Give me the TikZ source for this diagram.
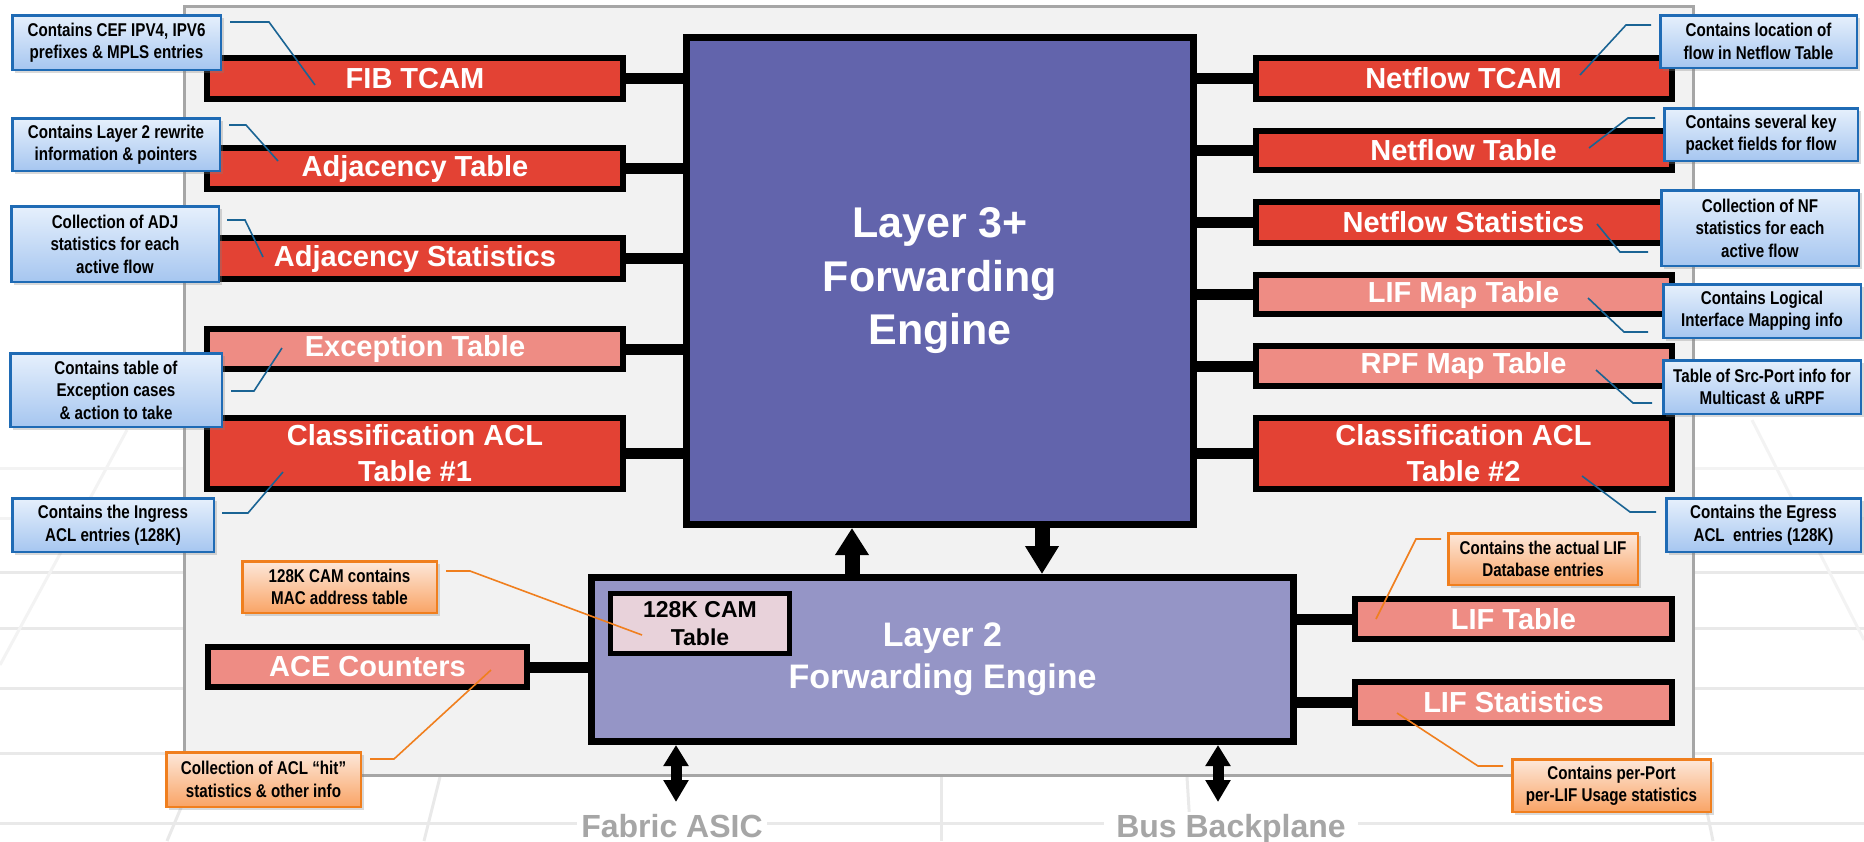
\documentclass[tikz,border=0pt]{standalone}
\usepackage{fontspec}
\setmainfont{Liberation Sans}
\newfontfamily\narrowsans{Liberation Sans}[FakeStretch=0.82]
\usetikzlibrary{arrows.meta,shadows,calc}

\definecolor{panelfill}{HTML}{F2F2F2}
\definecolor{panelline}{HTML}{A6A6A6}
\definecolor{gridline}{HTML}{E9E9E9}
\definecolor{gridfaint}{HTML}{F3F3F3}
\definecolor{lthree}{HTML}{6264AC}
\definecolor{ltwo}{HTML}{9595C6}
\definecolor{tabred}{HTML}{E34234}
\definecolor{tabpink}{HTML}{EE8C84}
\definecolor{camfill}{HTML}{E8D2DA}
\definecolor{bluetop}{HTML}{E6F0FC}
\definecolor{bluebot}{HTML}{A6C6F0}
\definecolor{blueline}{HTML}{1F6BB5}
\definecolor{leaderblue}{HTML}{1A6494}
\definecolor{orangetop}{HTML}{FDE8DA}
\definecolor{orangebot}{HTML}{F9A466}
\definecolor{orangeline}{HTML}{F07F1E}
\definecolor{labelgray}{HTML}{A6A6A6}

\begin{document}
\begin{tikzpicture}[x=1pt,y=-1pt,
  gridl/.style={draw=gridline, line width=3pt},
  gridf/.style={draw=gridfaint, line width=3pt},
  engine/.style={draw=black, line width=7pt, inner sep=0pt, text=white, align=center},
  tbl/.style={draw=black, line width=6pt, inner sep=0pt, text=white, align=center,
    minimum width=416pt, font=\fontsize{29}{36}\selectfont\bfseries},
  redtbl/.style={tbl, fill=tabred},
  pinktbl/.style={tbl, fill=tabpink},
  link/.style={line width=11pt},
  callout/.style={line width=2.5pt, inner sep=0pt, align=center, text=black,
    font=\narrowsans\fontsize{18.5}{22.5}\selectfont\bfseries,
    drop shadow={shadow xshift=3pt, shadow yshift=-3pt, opacity=0.3}},
  bluecall/.style={callout, draw=blueline, top color=bluetop, bottom color=bluebot},
  orangecall/.style={callout, draw=orangeline, top color=orangetop, bottom color=orangebot},
  bleader/.style={draw=leaderblue, line width=1.6pt},
  oleader/.style={draw=orangeline, line width=1.6pt},
  busarrow/.style={line width=11pt,
    {Triangle[width=24pt,length=21pt]}-{Triangle[width=24pt,length=22pt]}},
  busname/.style={anchor=base, fill=white, inner ysep=2pt, text=labelgray,
    font=\fontsize{32}{32}\selectfont\bfseries}
]
\useasboundingbox (0,0) rectangle (1864,841);
\clip (0,0) rectangle (1864,841);

% faint floor grid behind the chassis
\foreach \y in {468,518}
  \draw[gridf] (0,\y) -- (1864,\y);
\foreach \y in {572,628,688,753,823}
  \draw[gridl] (0,\y) -- (1864,\y);
\draw[gridf] (127,430) -- (0,665);
\draw[gridl] (183,803) -- (167,841);
\draw[gridl] (440,777) -- (424,841);
\draw[gridl] (941,777) -- (941,841);
\draw[gridl] (1187,777) -- (1191,841);
\draw[gridl] (1700,777) -- (1713,841);
\draw[gridf] (1752,420) -- (1864,640);

% chassis panel
\node[draw=panelline, fill=panelfill, line width=3pt, inner sep=0pt,
  minimum width=1509pt, minimum height=769pt] (panel) at (939,391) {};

% forwarding engines
\node[engine, fill=lthree, minimum width=507pt, minimum height=487pt,
  font=\fontsize{43}{53.5}\selectfont\bfseries] (l3) at (940,281)
  {Layer 3+\\Forwarding\\Engine};
\node[engine, fill=ltwo, minimum width=702pt, minimum height=164pt,
  font=\fontsize{34}{42}\selectfont\bfseries] (l2) at (942.5,659.5)
  {Layer 2\\Forwarding Engine};
\node[draw=black, line width=5pt, fill=camfill, inner sep=0pt, align=center,
  minimum width=179pt, minimum height=60pt,
  font=\fontsize{23}{28}\selectfont\bfseries] (cam) at (700,623.5)
  {128K CAM\\Table};

% lookup tables, left of the L3 engine
\node[redtbl,  minimum height=41pt] (fib)  at (415,78.5)  {FIB TCAM};
\node[redtbl,  minimum height=41pt] (adj)  at (415,168.5) {Adjacency Table};
\node[redtbl,  minimum height=41pt] (adjs) at (415,258.5) {Adjacency Statistics};
\node[pinktbl, minimum height=40pt] (exc)  at (415,349)   {Exception Table};
\node[redtbl,  minimum height=71pt] (acl1) at (415,453.5) {Classification ACL\\Table \#1};

% lookup tables, right of the L3 engine
\node[redtbl,  minimum height=41pt] (nft)  at (1463.5,78.5)  {Netflow TCAM};
\node[redtbl,  minimum height=39pt] (nftb) at (1463.5,150.5) {Netflow Table};
\node[redtbl,  minimum height=41pt] (nfs)  at (1463.5,222.5) {Netflow Statistics};
\node[pinktbl, minimum height=39pt] (lifm) at (1463.5,294.5) {LIF Map Table};
\node[pinktbl, minimum height=40pt] (rpf)  at (1463.5,366)   {RPF Map Table};
\node[redtbl,  minimum height=71pt] (acl2) at (1463.5,453.5) {Classification ACL\\Table \#2};

% tables attached to the L2 engine
\node[pinktbl, minimum width=319pt, minimum height=40pt] (ace)  at (367.5,667)    {ACE Counters};
\node[pinktbl, minimum width=317pt, minimum height=40pt] (lift) at (1513.5,619)   {LIF Table};
\node[pinktbl, minimum width=317pt, minimum height=41pt] (lifs) at (1513.5,702.5) {LIF Statistics};

% table-to-engine links
\foreach \t in {fib,adj,adjs,exc,acl1}
  \draw[link] (\t.east) -- (\t.east -| l3.west);
\foreach \t in {nft,nftb,nfs,lifm,rpf,acl2}
  \draw[link] (\t.west) -- (\t.west -| l3.east);
\draw[link] (ace.east) -- (ace.east -| l2.west);
\draw[link] (lift.west) -- (lift.west -| l2.east);
\draw[link] (lifs.west) -- (lifs.west -| l2.east);

% L2 <-> L3 paths
\coordinate (upx) at (852,0);
\coordinate (dnx) at (1042,0);
\draw[line width=15pt, -{Triangle[width=32pt,length=27pt]}] (upx |- l2.north) -- (upx |- l3.south);
\draw[line width=15pt, -{Triangle[width=32pt,length=28pt]}] (dnx |- l3.south) -- (dnx |- l2.north);

% external interfaces
\coordinate (fabend) at (676,802);
\coordinate (busend) at (1218,802);
\draw[busarrow] (fabend |- l2.south) -- (fabend);
\draw[busarrow] (busend |- l2.south) -- (busend);
\node[busname, inner xsep=4pt] (fabric) at (672,837) {Fabric ASIC};
\node[busname, inner xsep=12pt] (bus) at (1231,837) {Bus Backplane};

% callout leader lines
\foreach \n/\ax/\ay/\dx/\bx/\by/\sty in {
   1/230/22/39/315/85/bleader,
   2/229/125/17/278/161/bleader,
   3/227/220/18/263/257/bleader,
   4/231/391/23/282/348/bleader,
   5/222/513/26/283/472/bleader,
   6/1651/25/-25/1580/75/bleader,
   7/1655/118/-27/1589/148/bleader,
   8/1648/252/-28/1597/224/bleader,
   9/1648/332/-24/1588/298/bleader,
   10/1652/403/-19/1596/370/bleader,
   11/1656/512/-26/1582/476/bleader,
   12/446/571/24/642/635/oleader,
   13/370/759/24/491/670/oleader,
   14/1441/539/-25/1376/619/oleader,
   15/1503/766/-25/1397/713/oleader} {
  \coordinate (la\n) at (\ax,\ay);
  \coordinate (lb\n) at (\bx,\by);
  \draw[\sty] (la\n) -- ++(\dx,0) -- (lb\n);
}

% blue callouts
\node[bluecall, minimum width=208.5pt, minimum height=54.5pt] (c1) at (116.5,42.5)
  {Contains CEF IPV4, IPV6\\prefixes \& MPLS entries};
\node[bluecall, minimum width=207.5pt, minimum height=52.5pt] (c2) at (116,144.5)
  {Contains Layer 2 rewrite\\information \& pointers};
\node[bluecall, minimum width=207.5pt, minimum height=75.5pt] (c3) at (115,244)
  {Collection of ADJ\\statistics for each\\active flow};
\node[bluecall, minimum width=211.5pt, minimum height=73.5pt] (c4) at (116,390)
  {Contains table of\\Exception cases\\\& action to take};
\node[bluecall, minimum width=201.5pt, minimum height=53.5pt] (c5) at (113,525)
  {Contains the Ingress\\ACL entries (128K)};
\node[bluecall, minimum width=196.5pt, minimum height=52.5pt] (c6) at (1758.5,41.5)
  {Contains location of\\flow in Netflow Table};
\node[bluecall, minimum width=193.5pt, minimum height=52.5pt] (c7) at (1761,134.5)
  {Contains several key\\packet fields for flow};
\node[bluecall, minimum width=197.5pt, minimum height=75.5pt] (c8) at (1760,228)
  {Collection of NF\\statistics for each\\active flow};
\node[bluecall, minimum width=197.5pt, minimum height=53.5pt] (c9) at (1762,311)
  {Contains Logical\\Interface Mapping info};
\node[bluecall, minimum width=197.5pt, minimum height=53.5pt] (c10) at (1762,387)
  {Table of Src-Port info for\\Multicast \& uRPF};
\node[bluecall, minimum width=194.5pt, minimum height=53.5pt] (c11) at (1763.5,525)
  {Contains the Egress\\ACL\ \ entries (128K)};

% orange callouts
\node[orangecall, minimum width=194.5pt, minimum height=51.5pt] (c12) at (339.5,587)
  {128K CAM contains\\MAC address table};
\node[orangecall, minimum width=194.5pt, minimum height=54.5pt] (c13) at (263.5,779.5)
  {Collection of ACL “hit”\\statistics \& other info};
\node[orangecall, minimum width=189.5pt, minimum height=51.5pt] (c14) at (1543,559)
  {Contains the actual LIF\\Database entries};
\node[orangecall, minimum width=198.5pt, minimum height=52.5pt] (c15) at (1611.5,785.5)
  {Contains per-Port\\per-LIF Usage statistics};
\end{tikzpicture}
\end{document}
